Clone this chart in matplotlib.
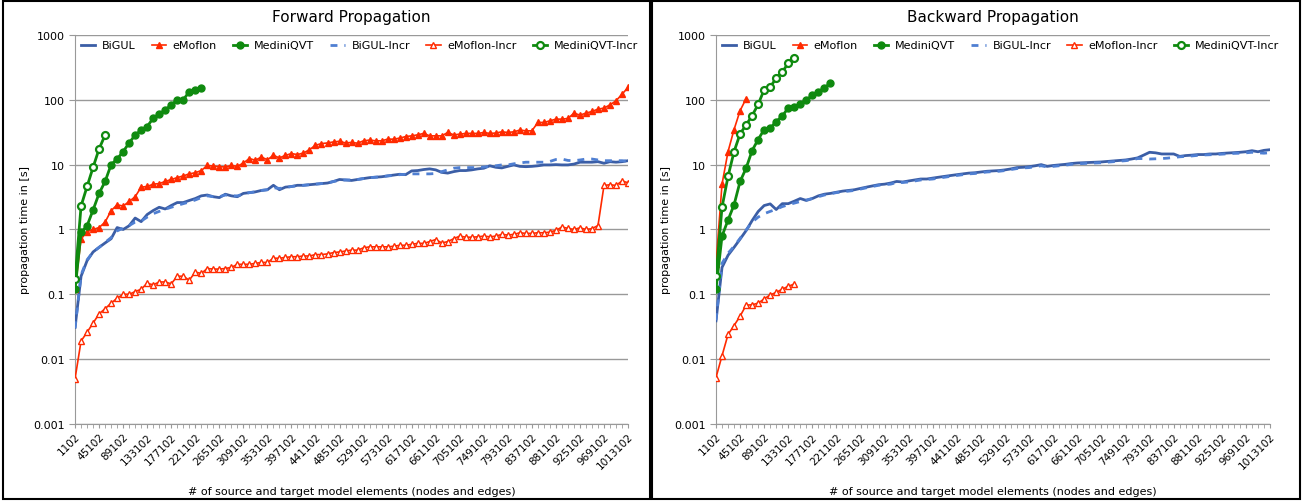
import matplotlib
matplotlib.use('Agg')
import matplotlib.pyplot as plt
from matplotlib.patches import Rectangle
from matplotlib.ticker import FixedLocator, NullFormatter

# model sizes (nodes and edges), one point every 11000 elements
sizes = [1102 + 11000 * k for k in range(93)]

# ---- forward propagation ----
fw_bigul = [0.031, 0.19, 0.33, 0.45, 0.53, 0.62, 0.72, 1.07, 1.0, 1.14,
            1.5, 1.32, 1.7, 1.96, 2.2, 2.07, 2.34, 2.6, 2.6, 2.8,
            3.0, 3.3, 3.4, 3.2, 3.1, 3.5, 3.3, 3.2, 3.6, 3.7,
            3.8, 4.0, 4.1, 4.8, 4.1, 4.5, 4.6, 4.8, 4.8, 4.9,
            5.0, 5.1, 5.2, 5.5, 5.9, 5.8, 5.7, 5.9, 6.1, 6.3,
            6.4, 6.5, 6.7, 6.9, 7.1, 7.0, 8.0, 8.1, 8.4, 8.6,
            8.3, 7.6, 7.4, 7.8, 8.1, 8.1, 8.3, 8.6, 8.8, 9.6,
            9.1, 8.9, 9.4, 9.9, 9.4, 9.3, 9.4, 9.6, 9.9, 9.9,
            10.0, 9.9, 9.9, 10.2, 10.9, 10.9, 10.9, 11.1, 10.5, 11.1,
            10.9, 11.1, 11.5]
fw_bigul_incr = [0.03, 0.2, 0.34, 0.45, 0.53, 0.63, 0.75, 0.95, 1.05, 1.15,
                 1.3, 1.35, 1.55, 1.75, 1.9, 2.05, 2.2, 2.35, 2.5, 2.65,
                 2.85, 3.1, 3.3, 3.2, 3.2, 3.4, 3.3, 3.3, 3.5, 3.7,
                 3.8, 4.0, 4.1, 4.4, 4.3, 4.4, 4.6, 4.7, 4.8, 4.9,
                 5.0, 5.1, 5.2, 5.5, 5.7, 5.8, 5.8, 5.9, 6.1, 6.3,
                 6.4, 6.5, 6.7, 6.8, 7.0, 7.1, 7.2, 7.2, 7.2, 7.2,
                 7.3, 7.8, 8.3, 8.8, 9.0, 9.0, 9.0, 9.0, 9.2, 9.4,
                 9.6, 9.9, 9.9, 10.3, 10.6, 10.9, 10.9, 10.9, 10.9, 11.2,
                 12.0, 12.2, 11.6, 11.5, 11.8, 12.2, 12.2, 11.8, 11.5, 11.5,
                 11.5, 11.5, 11.3]
fw_emoflon = [0.12, 0.71, 0.93, 1.0, 1.07, 1.3, 1.95, 2.4, 2.3, 2.7,
              3.2, 4.5, 4.6, 5.0, 5.1, 5.5, 5.9, 6.3, 6.7, 7.2,
              7.5, 8.1, 9.7, 9.5, 9.3, 9.2, 9.7, 9.4, 10.6, 12.4,
              11.7, 13.1, 11.9, 13.9, 12.7, 13.9, 14.8, 14.3, 15.1, 17.0,
              19.9, 21.1, 21.6, 22.4, 22.9, 21.6, 22.0, 21.4, 23.3, 23.9,
              23.3, 23.3, 24.7, 24.7, 25.6, 27.1, 27.8, 28.8, 30.3, 27.8,
              27.8, 27.8, 31.3, 28.8, 29.5, 30.3, 30.3, 30.3, 31.3, 30.3,
              30.7, 32.1, 31.3, 32.1, 34.1, 33.2, 33.2, 44.7, 44.7, 47.4,
              50.3, 50.3, 51.5, 62.3, 58.0, 62.3, 66.1, 71.8, 74.4, 83.7,
              96.5, 122, 155]
fw_emoflon_incr = [0.005, 0.019, 0.026, 0.036, 0.05, 0.06, 0.073, 0.087, 0.1, 0.1,
                   0.11, 0.12, 0.148, 0.14, 0.155, 0.155, 0.145, 0.19, 0.19, 0.165,
                   0.22, 0.21, 0.25, 0.245, 0.245, 0.25, 0.26, 0.29, 0.29, 0.29,
                   0.3, 0.31, 0.31, 0.36, 0.36, 0.37, 0.38, 0.38, 0.39, 0.39,
                   0.41, 0.41, 0.42, 0.44, 0.45, 0.465, 0.48, 0.48, 0.52, 0.54,
                   0.54, 0.54, 0.54, 0.55, 0.57, 0.57, 0.59, 0.61, 0.61, 0.65,
                   0.7, 0.62, 0.65, 0.72, 0.79, 0.76, 0.76, 0.77, 0.79, 0.77,
                   0.79, 0.84, 0.82, 0.84, 0.89, 0.87, 0.87, 0.89, 0.89, 0.91,
                   0.97, 1.09, 1.04, 1.0, 1.06, 1.0, 1.03, 1.15, 4.77, 4.9,
                   4.77, 5.6, 5.25]
fw_medini = [0.12, 0.9, 1.14, 2.0, 3.6, 5.5, 10, 12.2, 15.9, 21.6,
             28.6, 34, 38.7, 52, 60, 70, 83, 100, 100, 133,
             143, 152]
fw_medini_incr = [0.17, 2.3, 4.6, 9.1, 17.5, 28.6]

# ---- backward propagation ----
bw_bigul = [0.039, 0.26, 0.40, 0.53, 0.71, 0.96, 1.37, 1.89, 2.34, 2.48,
            2.03, 2.5, 2.5, 2.73, 3.0, 2.8, 3.0, 3.3, 3.5, 3.6,
            3.75, 3.9, 4.0, 4.1, 4.3, 4.5, 4.7, 4.9, 5.0, 5.2,
            5.5, 5.4, 5.6, 5.8, 6.0, 6.0, 6.2, 6.4, 6.6, 6.8,
            7.0, 7.2, 7.4, 7.5, 7.7, 7.9, 8.0, 8.1, 8.3, 8.6,
            9.0, 9.1, 9.3, 9.6, 10.0, 9.4, 9.7, 9.9, 10.1, 10.4,
            10.6, 10.7, 10.8, 10.9, 11.0, 11.2, 11.4, 11.6, 11.8, 12.2,
            12.7, 14.0, 15.5, 15.2, 14.6, 14.6, 14.6, 13.4, 13.8, 14.0,
            14.3, 14.3, 14.6, 14.6, 14.9, 15.1, 15.3, 15.5, 15.8, 16.4,
            15.8, 16.6, 17.0]
bw_bigul_incr = [0.04, 0.3, 0.43, 0.55, 0.73, 0.98, 1.3, 1.55, 1.75, 1.9,
                 2.05, 2.25, 2.4, 2.55, 2.7, 2.85, 3.0, 3.2, 3.4, 3.55,
                 3.7, 3.8, 3.9, 4.0, 4.2, 4.4, 4.6, 4.8, 4.9, 5.0,
                 5.3, 5.3, 5.4, 5.6, 5.8, 5.9, 6.0, 6.2, 6.4, 6.6,
                 6.8, 7.0, 7.2, 7.3, 7.5, 7.7, 7.8, 7.9, 8.1, 8.4,
                 8.7, 8.9, 9.0, 9.3, 9.6, 9.2, 9.4, 9.6, 9.8, 10.1,
                 10.3, 10.4, 10.5, 10.6, 10.7, 10.9, 11.1, 11.3, 11.5, 11.8,
                 12.4, 12.4, 12.2, 12.3, 12.4, 12.6, 12.9, 13.2, 13.4, 13.6,
                 13.9, 14.1, 14.2, 14.3, 14.5, 14.7, 14.9, 15.0, 15.2, 15.5,
                 15.2, 15.0, 15.3]
bw_emoflon = [0.29, 5.0, 15.9, 34.8, 68, 104]
bw_emoflon_incr = [0.0052, 0.0113, 0.024, 0.033, 0.046, 0.068, 0.069, 0.073, 0.085, 0.098,
                   0.107, 0.12, 0.133, 0.144]
bw_medini = [0.12, 0.79, 1.4, 2.4, 5.5, 8.8, 16.5, 24.4, 34.8, 36.5,
             46, 56, 75, 77, 87, 100, 117, 134, 151, 183]
bw_medini_incr = [0.19, 2.2, 6.6, 15.9, 29.8, 41, 57, 85, 143, 157,
                  216, 267, 368, 446]

BLUE = '#3b5ea6'
BLUE_INCR = '#4f7fd2'
RED = '#ff2a00'
GREEN = '#0f8a0f'


def panel(ax, title, bigul, bigul_incr, emoflon, emoflon_incr, medini, medini_incr):
    x = list(range(len(sizes)))
    ax.plot(x[:len(bigul)], bigul, color=BLUE, lw=2, label='BiGUL', zorder=3)
    ax.plot(x[:len(emoflon)], emoflon, color=RED, lw=1.2, marker='^', ms=5,
            mec=RED, mfc=RED, label='eMoflon', zorder=4)
    ax.plot(x[:len(medini)], medini, color=GREEN, lw=2, marker='o', ms=5,
            mec=GREEN, mfc=GREEN, label='MediniQVT', zorder=5)
    ax.plot(x[:len(bigul_incr)], bigul_incr, color=BLUE_INCR, lw=2, ls=(0, (2.5, 2.5)),
            label='BiGUL-Incr', zorder=3)
    ax.plot(x[:len(emoflon_incr)], emoflon_incr, color=RED, lw=1.2, marker='^', ms=5,
            mec=RED, mfc='white', mew=1, label='eMoflon-Incr', zorder=4)
    ax.plot(x[:len(medini_incr)], medini_incr, color=GREEN, lw=2, marker='o', ms=5,
            mec=GREEN, mfc='white', mew=1.6, label='MediniQVT-Incr', zorder=5)

    ax.set_yscale('log')
    ax.set_ylim(0.001, 1000)
    ax.set_xlim(0, len(sizes) - 1)
    ax.set_yticks([0.001, 0.01, 0.1, 1, 10, 100, 1000])
    ax.set_yticklabels(['0.001', '0.01', '0.1', '1', '10', '100', '1000'], fontsize=8)
    ax.yaxis.set_minor_locator(FixedLocator([]))
    ax.yaxis.set_minor_formatter(NullFormatter())
    ax.grid(axis='y', color='#999999', lw=1)
    ax.set_axisbelow(True)

    major = list(range(0, len(sizes), 4))
    ax.set_xticks(major)
    ax.set_xticklabels([str(sizes[i]) for i in major], rotation=45, ha='right',
                       rotation_mode='anchor', fontsize=7.5)
    ax.xaxis.set_minor_locator(FixedLocator(x))
    ax.tick_params(axis='x', which='both', length=3, color='#999999', pad=2)
    ax.tick_params(axis='y', length=4, color='#999999')

    for s in ['top', 'right']:
        ax.spines[s].set_visible(False)
    for s in ['left', 'bottom']:
        ax.spines[s].set_color('#999999')

    ax.set_title(title, fontsize=11, pad=10)
    ax.set_ylabel('propagation time in [s]', fontsize=8, labelpad=2)
    ax.set_xlabel('# of source and target model elements (nodes and edges)', fontsize=8, labelpad=11)
    ax.legend(loc='upper left', bbox_to_anchor=(0.0, 1.0), ncol=6, frameon=False,
              fontsize=8, handlelength=1.3, columnspacing=1.45, handletextpad=0.6,
              borderaxespad=0.3, borderpad=0.2)


fig = plt.figure(figsize=(13.03, 5.02), dpi=100)
ax1 = fig.add_axes([0.0576, 0.1534, 0.4244, 0.775])
ax2 = fig.add_axes([0.5495, 0.1534, 0.4252, 0.775])

panel(ax1, 'Forward Propagation', fw_bigul, fw_bigul_incr, fw_emoflon,
      fw_emoflon_incr, fw_medini, fw_medini_incr)
panel(ax2, 'Backward Propagation', bw_bigul, bw_bigul_incr, bw_emoflon,
      bw_emoflon_incr, bw_medini, bw_medini_incr)

# panel frames
fig.add_artist(Rectangle((0.002, 0.004), 0.497, 0.992, transform=fig.transFigure,
                         fill=False, ec='black', lw=1.5))
fig.add_artist(Rectangle((0.5005, 0.004), 0.4975, 0.992, transform=fig.transFigure,
                         fill=False, ec='black', lw=1.5))

plt.savefig('out.png', dpi=100)
